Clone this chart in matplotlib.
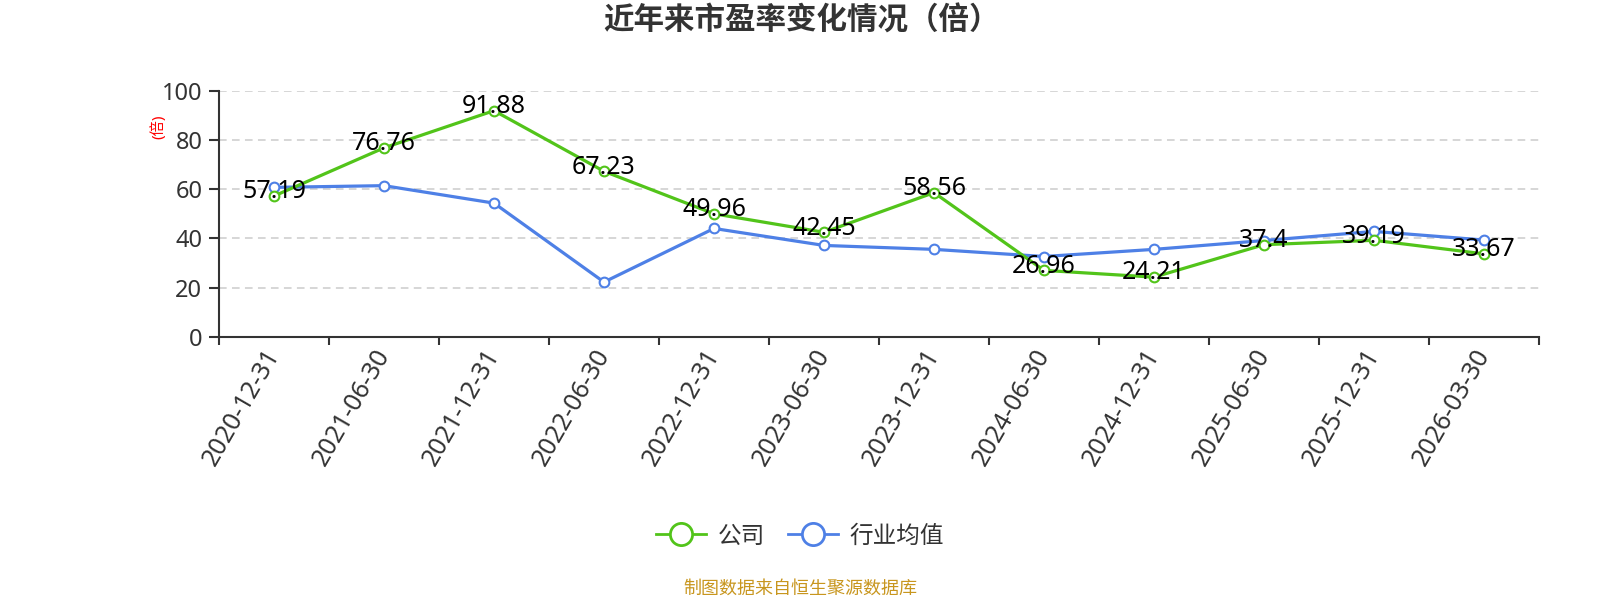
import matplotlib
matplotlib.use("Agg")
import matplotlib.pyplot as plt
from matplotlib.lines import Line2D
from matplotlib.ticker import FixedLocator
import numpy as np

plt.rcParams['font.family'] = ['Noto Sans', 'Noto Sans CJK SC', 'DejaVu Sans']

categories = ["2020-12-31", "2021-06-30", "2021-12-31", "2022-06-30", "2022-12-31",
              "2023-06-30", "2023-12-31", "2024-06-30", "2024-12-31", "2025-06-30",
              "2025-12-31", "2026-03-30"]
company = [57.19, 76.76, 91.88, 67.23, 49.96, 42.45, 58.56, 26.96, 24.21, 37.4, 39.19, 33.67]
industry = [60.7, 61.4, 54.3, 22.2, 44.0, 37.1, 35.5, 32.6, 35.5, 39.1, 42.8, 39.3]
y_ticks = [0, 20, 40, 60, 80, 100]

title = "近年来市盈率变化情况（倍）"
y_label = "(倍)"
series_names = ["公司", "行业均值"]
source = "制图数据来自恒生聚源数据库"

green = "#52c41a"
blue = "#4e80e6"
text_dark = "#333333"

fig = plt.figure(figsize=(16, 6), dpi=100)
ax = fig.add_axes([219/1600, 1 - 336.7/600, 1320/1600, (336.7 - 90.7)/600])

x = np.arange(len(categories))
ax.plot(x, industry, color=blue, lw=2.3, marker='o', markersize=7,
        markerfacecolor='white', markeredgecolor=blue, markeredgewidth=1.5, zorder=3)
ax.plot(x, company, color=green, lw=2.3, marker='o', markersize=7,
        markerfacecolor='white', markeredgecolor=green, markeredgewidth=1.5, zorder=4)

for xi, v in zip(x, company):
    ax.annotate(f"{v:g}", (xi, v), xytext=(0, 3), textcoords='offset points',
                ha='center', va='center', fontsize=18, color='black', zorder=5)

ax.set_xlim(-0.5, len(categories) - 0.5)
ax.set_ylim(0, 100)
ax.set_yticks(y_ticks)
ax.yaxis.grid(True, color='#cccccc', linestyle=(0, (5, 3.5)), linewidth=1.1)
ax.set_axisbelow(True)

ax.set_xticks(x)
ax.set_xticklabels(categories, rotation=60, ha='right', va='center', rotation_mode='anchor',
                   fontsize=18, color=text_dark)
ax.xaxis.set_minor_locator(FixedLocator(np.arange(-0.5, len(categories), 1.0)))
ax.tick_params(axis='x', which='major', length=0, pad=10)
ax.tick_params(axis='x', which='minor', length=6, width=1.5, color=text_dark)
ax.tick_params(axis='y', which='major', length=7, width=1.5, color=text_dark,
               labelsize=17, labelcolor=text_dark, pad=5)

for side in ['top', 'right']:
    ax.spines[side].set_visible(False)
ax.spines['left'].set_color(text_dark)
ax.spines['bottom'].set_color(text_dark)
ax.spines['left'].set_linewidth(1.5)
ax.spines['bottom'].set_linewidth(1.5)

fig.text(158/1600, 1 - 127/600, y_label, rotation=90, color='red', fontsize=11,
         ha='center', va='center')

fig.text(0.501, 1 - 22/600, title, ha='center', va='center', fontsize=22,
         fontweight='bold', color=text_dark)

handles = [
    Line2D([0], [0], color=green, lw=2, marker='o', markersize=16,
           markerfacecolor='white', markeredgecolor=green, markeredgewidth=2),
    Line2D([0], [0], color=blue, lw=2, marker='o', markersize=16,
           markerfacecolor='white', markeredgecolor=blue, markeredgewidth=2),
]
leg = fig.legend(handles, series_names, loc='center', bbox_to_anchor=(0.5, 1 - 536.7/600),
                 ncol=2, frameon=False, fontsize=17, handlelength=2.1,
                 columnspacing=1.0, handletextpad=0.5)
for t in leg.get_texts():
    t.set_color(text_dark)

fig.text(0.5, 1 - 589/600, source, ha='center', va='center', fontsize=13, color='#c8961e')

fig.savefig("out.png", dpi=100)
